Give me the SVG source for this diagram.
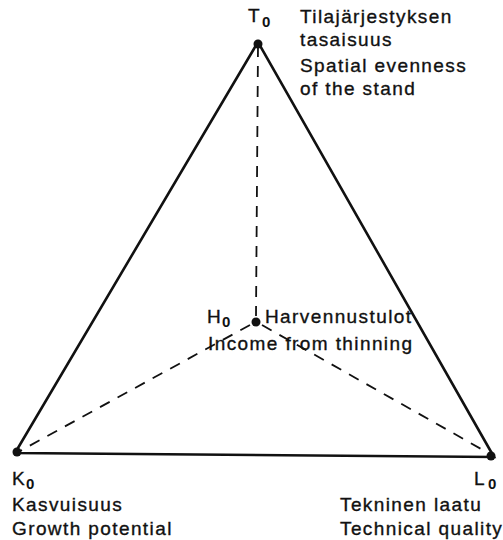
<svg xmlns="http://www.w3.org/2000/svg" width="503" height="540" viewBox="0 0 503 540">
<style>
.t{font-family:"Liberation Sans",Arial,sans-serif;font-size:19px;letter-spacing:1.4px;fill:#111;stroke:#111;stroke-width:0.35}
.s{font-family:"Liberation Sans",Arial,sans-serif;font-size:15px;font-weight:bold;fill:#111}
.edge{stroke:#111;stroke-width:2.6;fill:none;stroke-linejoin:miter}
.dash{stroke:#111;stroke-width:1.8;fill:none;stroke-dasharray:11 9}
.dot{fill:#111}
</style>
<rect width="503" height="540" fill="#fff"/>
<g id="connectors">
<path class="edge" d="M258,42 L15,453 L494,457 Z"/>
<line class="dash" x1="258" y1="46" x2="256" y2="316"/>
<line class="dash" x1="250" y1="325" x2="20" y2="451"/>
<line class="dash" x1="262" y1="325" x2="490" y2="454"/>
</g>
<g id="T0">
<circle class="dot" cx="258" cy="44" r="4.5"/>
<text class="t" x="248" y="22">T</text><text class="s" x="262" y="27">0</text>
<text class="t" x="300" y="23">Tilajärjestyksen</text>
<text class="t" x="300" y="46">tasaisuus</text>
<text class="t" x="300" y="72">Spatial evenness</text>
<text class="t" x="300" y="95">of the stand</text>
</g>
<g id="H0">
<circle class="dot" cx="256" cy="322" r="4.5"/>
<text class="t" x="207" y="323">H</text><text class="s" x="222" y="327">0</text>
<text class="t" x="265" y="323">Harvennustulot</text>
<text class="t" x="208" y="350">Income from thinning</text>
</g>
<g id="K0">
<circle class="dot" cx="17" cy="452" r="4.5"/>
<text class="t" x="12" y="485">K</text><text class="s" x="26" y="489">0</text>
<text class="t" x="12" y="511">Kasvuisuus</text>
<text class="t" x="12" y="535">Growth potential</text>
</g>
<g id="L0">
<circle class="dot" cx="491" cy="456" r="4.5"/>
<text class="t" x="474" y="485">L</text><text class="s" x="488" y="489">0</text>
<text class="t" x="340" y="511">Tekninen laatu</text>
<text class="t" x="340" y="535">Technical quality</text>
</g>
</svg>
